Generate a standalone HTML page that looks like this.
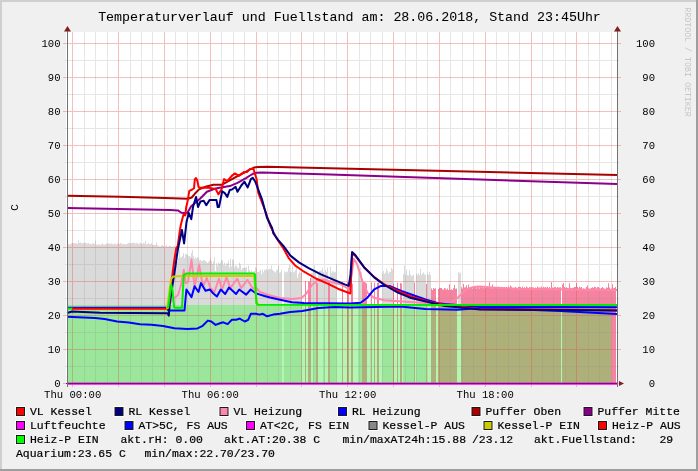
<!DOCTYPE html>
<html><head><meta charset="utf-8"><style>html,body{margin:0;padding:0;width:698px;height:471px;overflow:hidden;background:#f0f0f0}</style></head><body><svg width="698" height="471" viewBox="0 0 698 471" style="display:block;position:absolute;left:0;top:0;will-change:transform"><rect x="0" y="0" width="698" height="471" fill="#9e9e9e"/><rect x="0" y="0" width="696" height="469" fill="#cfcfcf"/><rect x="2" y="2" width="694" height="467" fill="#f0f0f0"/><rect x="66" y="32" width="551" height="351" fill="#ffffff"/><path d="M68,243.9V383H69V243.9ZM69,244.4V383H70V244.4ZM70,244.1V383H71V244.1ZM71,243.2V383H72V243.2ZM72,243.1V383H73V243.1ZM73,243.1V383H74V243.1ZM74,243.6V383H75V243.6ZM75,243.0V383H76V243.0ZM76,243.7V383H77V243.7ZM77,243.6V383H78V243.6ZM78,240.5V383H79V240.5ZM79,242.9V383H80V242.9ZM80,242.6V383H81V242.6ZM81,243.6V383H82V243.6ZM82,243.1V383H83V243.1ZM83,242.9V383H84V242.9ZM84,242.4V383H85V242.4ZM85,242.7V383H86V242.7ZM86,243.2V383H87V243.2ZM87,243.5V383H88V243.5ZM88,243.1V383H89V243.1ZM89,243.8V383H90V243.8ZM90,243.7V383H91V243.7ZM91,244.3V383H92V244.3ZM92,243.4V383H93V243.4ZM93,243.2V383H94V243.2ZM94,244.3V383H95V244.3ZM95,240.8V383H96V240.8ZM96,244.4V383H97V244.4ZM97,244.7V383H98V244.7ZM98,244.5V383H99V244.5ZM99,244.4V383H100V244.4ZM100,244.8V383H101V244.8ZM101,244.2V383H102V244.2ZM102,243.5V383H103V243.5ZM103,244.5V383H104V244.5ZM104,244.7V383H105V244.7ZM105,244.0V383H106V244.0ZM106,243.4V383H107V243.4ZM107,243.6V383H108V243.6ZM108,243.4V383H109V243.4ZM109,243.5V383H110V243.5ZM110,243.9V383H111V243.9ZM111,243.3V383H112V243.3ZM112,244.1V383H113V244.1ZM113,244.5V383H114V244.5ZM114,243.6V383H115V243.6ZM115,243.7V383H116V243.7ZM116,244.6V383H117V244.6ZM117,243.3V383H118V243.3ZM118,243.4V383H119V243.4ZM119,243.9V383H120V243.9ZM120,243.0V383H121V243.0ZM121,243.5V383H122V243.5ZM122,244.4V383H123V244.4ZM123,243.7V383H124V243.7ZM124,243.9V383H125V243.9ZM125,244.3V383H126V244.3ZM126,244.2V383H127V244.2ZM127,243.4V383H128V243.4ZM128,242.9V383H129V242.9ZM129,242.8V383H130V242.8ZM130,243.0V383H131V243.0ZM131,243.2V383H132V243.2ZM132,242.7V383H133V242.7ZM133,242.9V383H134V242.9ZM134,242.7V383H135V242.7ZM135,243.7V383H136V243.7ZM136,243.1V383H137V243.1ZM137,243.3V383H138V243.3ZM138,244.1V383H139V244.1ZM139,243.4V383H140V243.4ZM140,242.8V383H141V242.8ZM141,243.2V383H142V243.2ZM142,244.0V383H143V244.0ZM143,242.7V383H144V242.7ZM144,243.5V383H145V243.5ZM145,240.7V383H146V240.7ZM146,244.3V383H147V244.3ZM147,243.8V383H148V243.8ZM148,243.3V383H149V243.3ZM149,243.9V383H150V243.9ZM150,243.9V383H151V243.9ZM151,243.3V383H152V243.3ZM152,244.8V383H153V244.8ZM153,244.8V383H154V244.8ZM154,245.0V383H155V245.0ZM155,245.0V383H156V245.0ZM156,242.3V383H157V242.3ZM157,245.1V383H158V245.1ZM158,246.3V383H159V246.3ZM159,246.3V383H160V246.3ZM160,246.4V383H161V246.4ZM161,245.3V383H162V245.3ZM162,245.3V383H163V245.3ZM163,246.0V383H164V246.0ZM164,246.4V383H165V246.4ZM165,246.2V383H166V246.2ZM166,245.3V383H167V245.3ZM167,246.7V383H168V246.7ZM168,246.5V383H169V246.5ZM169,245.7V383H170V245.7ZM170,246.0V383H171V246.0ZM171,247.0V383H172V247.0ZM172,246.2V383H173V246.2ZM173,246.7V383H174V246.7ZM174,245.8V383H175V245.8ZM175,247.1V383H176V247.1ZM176,251.8V383H177V251.8ZM177,261.9V383H178V261.9ZM178,258.3V383H179V258.3ZM179,249.5V383H180V249.5ZM180,257.3V383H181V257.3ZM181,257.4V383H182V257.4ZM182,256.0V383H183V256.0ZM183,253.0V383H184V253.0ZM184,258.1V383H185V258.1ZM185,254.0V383H186V254.0ZM186,253.8V383H187V253.8ZM187,255.1V383H188V255.1ZM188,256.4V383H189V256.4ZM189,256.1V383H190V256.1ZM190,256.7V383H191V256.7ZM191,252.9V383H192V252.9ZM192,250.0V383H193V250.0ZM193,256.2V383H194V256.2ZM194,258.7V383H195V258.7ZM195,257.4V383H196V257.4ZM196,258.5V383H197V258.5ZM197,257.0V383H198V257.0ZM198,257.9V383H199V257.9ZM199,260.2V383H200V260.2ZM200,259.7V383H201V259.7ZM201,261.3V383H202V261.3ZM202,260.4V383H203V260.4ZM203,260.3V383H204V260.3ZM204,260.3V383H205V260.3ZM205,260.7V383H206V260.7ZM206,261.9V383H207V261.9ZM207,263.1V383H208V263.1ZM208,261.9V383H209V261.9ZM209,260.7V383H210V260.7ZM210,258.8V383H211V258.8ZM211,260.8V383H212V260.8ZM212,263.9V383H213V263.9ZM213,261.5V383H214V261.5ZM214,257.3V383H215V257.3ZM215,270.9V383H216V270.9ZM216,262.9V383H217V262.9ZM217,265.4V383H218V265.4ZM218,262.3V383H219V262.3ZM219,263.8V383H220V263.8ZM220,262.7V383H221V262.7ZM221,260.2V383H222V260.2ZM222,260.3V383H223V260.3ZM223,264.9V383H224V264.9ZM224,262.8V383H225V262.8ZM225,265.9V383H226V265.9ZM226,263.4V383H227V263.4ZM227,263.4V383H228V263.4ZM228,260.4V383H229V260.4ZM229,267.4V383H230V267.4ZM230,258.4V383H231V258.4ZM231,266.5V383H232V266.5ZM232,259.4V383H233V259.4ZM233,259.7V383H234V259.7ZM234,267.5V383H235V267.5ZM235,265.6V383H236V265.6ZM236,265.7V383H237V265.7ZM237,267.5V383H238V267.5ZM238,268.2V383H239V268.2ZM239,262.6V383H240V262.6ZM240,264.5V383H241V264.5ZM241,270.0V383H242V270.0ZM242,268.0V383H243V268.0ZM243,268.1V383H244V268.1ZM244,267.9V383H245V267.9ZM245,267.4V383H246V267.4ZM246,267.6V383H247V267.6ZM247,273.9V383H248V273.9ZM248,265.6V383H249V265.6ZM249,269.9V383H250V269.9ZM250,271.7V383H251V271.7ZM251,270.4V383H252V270.4ZM252,272.4V383H253V272.4ZM253,271.8V383H254V271.8ZM254,271.0V383H255V271.0ZM255,267.2V383H256V267.2ZM256,268.8V383H257V268.8ZM257,271.9V383H258V271.9ZM258,271.9V383H259V271.9ZM259,271.3V383H260V271.3ZM260,269.6V383H261V269.6ZM261,274.2V383H262V274.2ZM262,269.7V383H263V269.7ZM263,272.6V383H264V272.6ZM264,269.7V383H265V269.7ZM265,269.9V383H266V269.9ZM266,268.7V383H267V268.7ZM267,270.6V383H268V270.6ZM268,269.6V383H269V269.6ZM269,268.8V383H270V268.8ZM270,269.2V383H271V269.2ZM271,265.5V383H272V265.5ZM272,269.8V383H273V269.8ZM273,271.0V383H274V271.0ZM274,271.5V383H275V271.5ZM275,272.4V383H276V272.4ZM276,270.2V383H277V270.2ZM277,269.5V383H278V269.5ZM278,265.4V383H279V265.4ZM279,272.5V383H280V272.5ZM280,271.9V383H281V271.9ZM281,269.6V383H282V269.6ZM284,271.2V383H285V271.2ZM285,272.5V383H286V272.5ZM286,271.6V383H287V271.6ZM287,272.1V383H288V272.1ZM288,267.7V383H289V267.7ZM289,264.7V383H290V264.7ZM290,271.7V383H291V271.7ZM291,272.1V383H292V272.1ZM292,265.6V383H293V265.6ZM293,272.6V383H294V272.6ZM294,271.8V383H295V271.8ZM295,270.0V383H296V270.0ZM296,267.5V383H297V267.5ZM297,277.7V383H298V277.7ZM298,273.8V383H299V273.8ZM299,271.5V383H300V271.5ZM300,272.7V383H301V272.7ZM301,272.5V383H302V272.5ZM311,272.7V383H312V272.7ZM312,272.7V383H313V272.7ZM313,272.1V383H314V272.1ZM314,265.4V383H315V265.4ZM315,270.8V383H316V270.8ZM318,271.8V383H319V271.8ZM319,270.8V383H320V270.8ZM320,270.8V383H321V270.8ZM321,270.6V383H322V270.6ZM322,267.7V383H323V267.7ZM323,272.0V383H324V272.0ZM324,278.4V383H325V278.4ZM325,269.9V383H326V269.9ZM326,272.0V383H327V272.0ZM327,267.5V383H328V267.5ZM330,266.7V383H331V266.7ZM331,272.9V383H332V272.9ZM332,271.2V383H333V271.2ZM333,271.6V383H334V271.6ZM334,272.4V383H335V272.4ZM335,271.7V383H336V271.7ZM336,264.0V383H337V264.0ZM358,272.5V383H359V272.5ZM359,273.8V383H360V273.8ZM360,267.2V383H361V267.2ZM361,271.8V383H362V271.8ZM382,273.6V383H383V273.6ZM383,270.9V383H384V270.9ZM384,274.0V383H385V274.0ZM385,272.9V383H386V272.9ZM386,268.2V383H387V268.2ZM387,271.0V383H388V271.0ZM388,273.5V383H389V273.5ZM389,271.7V383H390V271.7ZM390,272.1V383H391V272.1ZM391,268.0V383H392V268.0ZM392,269.4V383H393V269.4ZM403,274.1V383H404V274.1ZM404,265.5V383H405V265.5ZM405,274.7V383H406V274.7ZM406,269.8V383H407V269.8ZM407,275.3V383H408V275.3ZM408,275.3V383H409V275.3ZM409,270.3V383H410V270.3ZM410,274.4V383H411V274.4ZM411,276.3V383H412V276.3ZM412,275.4V383H413V275.4ZM413,274.8V383H414V274.8ZM416,273.8V383H417V273.8ZM417,275.3V383H418V275.3ZM418,273.2V383H419V273.2ZM419,275.2V383H420V275.2ZM420,268.4V383H421V268.4ZM421,274.9V383H422V274.9ZM422,273.4V383H423V273.4ZM423,272.5V383H424V272.5ZM424,274.2V383H425V274.2ZM425,274.9V383H426V274.9ZM427,273.2V383H428V273.2ZM428,274.9V383H429V274.9ZM429,272.1V383H430V272.1ZM430,274.7V383H431V274.7ZM458,272.0V383H459V272.0ZM459,273.4V383H460V273.4ZM460,272.5V383H461V272.5Z" fill="#dadada"/><path d="M305,281.1V383H306V281.1ZM308,281.5V383H309V281.5ZM309,281.7V383H310V281.7ZM310,277.9V383H311V277.9ZM316,279.5V383H317V279.5ZM317,283.0V383H318V283.0ZM328,282.0V383H329V282.0ZM329,281.3V383H330V281.3ZM342,282.1V383H343V282.1ZM347,282.1V383H348V282.1ZM348,282.8V383H349V282.8ZM351,282.5V383H352V282.5ZM352,283.7V383H353V283.7ZM362,283.3V383H363V283.3ZM363,281.9V383H364V281.9ZM364,282.1V383H365V282.1ZM365,282.6V383H366V282.6ZM366,283.6V383H367V283.6ZM371,282.5V383H372V282.5ZM374,282.7V383H375V282.7ZM377,282.9V383H378V282.9ZM378,282.4V383H379V282.4ZM393,283.7V383H394V283.7ZM397,282.8V383H398V282.8ZM400,282.9V383H401V282.9ZM401,283.4V383H402V283.4ZM414,282.6V383H415V282.6ZM426,283.9V383H427V283.9ZM431,288.4V383H432V288.4ZM432,290.0V383H433V290.0ZM433,287.9V383H434V287.9ZM434,288.8V383H435V288.8ZM435,288.3V383H436V288.3ZM438,289.1V383H439V289.1ZM439,287.8V383H440V287.8ZM440,288.1V383H441V288.1ZM441,287.9V383H442V287.9ZM442,289.2V383H443V289.2ZM443,289.7V383H444V289.7ZM444,287.9V383H445V287.9ZM445,288.5V383H446V288.5ZM446,289.8V383H447V289.8ZM447,288.5V383H448V288.5ZM448,289.9V383H449V289.9ZM449,284.2V383H450V284.2ZM450,289.8V383H451V289.8ZM451,289.4V383H452V289.4ZM452,289.9V383H453V289.9ZM453,288.2V383H454V288.2ZM454,284.9V383H455V284.9ZM455,288.7V383H456V288.7ZM456,288.6V383H457V288.6ZM461,287.3V383H462V287.3ZM462,288.7V383H463V288.7ZM463,283.9V383H464V283.9ZM464,287.6V383H465V287.6ZM465,287.2V383H466V287.2ZM466,285.2V383H467V285.2ZM467,288.6V383H468V288.6ZM468,284.5V383H469V284.5ZM469,288.8V383H470V288.8ZM470,288.4V383H471V288.4ZM471,287.4V383H472V287.4ZM472,288.8V383H473V288.8ZM473,287.1V383H474V287.1ZM474,287.2V383H475V287.2ZM475,286.4V383H476V286.4ZM476,288.6V383H477V288.6ZM477,285.7V383H478V285.7ZM478,287.5V383H479V287.5ZM479,288.6V383H480V288.6ZM480,286.9V383H481V286.9ZM481,287.5V383H482V287.5ZM482,286.7V383H483V286.7ZM483,288.1V383H484V288.1ZM484,288.2V383H485V288.2ZM485,287.1V383H486V287.1ZM486,287.2V383H487V287.2ZM487,286.5V383H488V286.5ZM488,288.1V383H489V288.1ZM489,282.3V383H490V282.3ZM490,287.1V383H491V287.1ZM491,288.5V383H492V288.5ZM492,284.6V383H493V284.6ZM493,287.5V383H494V287.5ZM494,287.4V383H495V287.4ZM495,287.4V383H496V287.4ZM496,288.0V383H497V288.0ZM497,288.4V383H498V288.4ZM498,286.7V383H499V286.7ZM499,287.1V383H500V287.1ZM500,287.3V383H501V287.3ZM501,286.9V383H502V286.9ZM502,287.0V383H503V287.0ZM503,288.5V383H504V288.5ZM504,287.2V383H505V287.2ZM505,288.8V383H506V288.8ZM506,287.0V383H507V287.0ZM507,288.0V383H508V288.0ZM508,286.6V383H509V286.6ZM509,288.4V383H510V288.4ZM510,285.4V383H511V285.4ZM511,286.7V383H512V286.7ZM512,288.8V383H513V288.8ZM513,288.7V383H514V288.7ZM514,288.5V383H515V288.5ZM515,287.1V383H516V287.1ZM516,288.7V383H517V288.7ZM517,287.9V383H518V287.9ZM518,287.0V383H519V287.0ZM519,286.8V383H520V286.8ZM520,287.1V383H521V287.1ZM521,288.0V383H522V288.0ZM522,286.5V383H523V286.5ZM523,288.1V383H524V288.1ZM524,287.2V383H525V287.2ZM525,288.4V383H526V288.4ZM526,286.6V383H527V286.6ZM527,287.4V383H528V287.4ZM528,288.0V383H529V288.0ZM529,286.9V383H530V286.9ZM530,287.5V383H531V287.5ZM531,287.2V383H532V287.2ZM532,287.2V383H533V287.2ZM533,287.4V383H534V287.4ZM534,288.6V383H535V288.6ZM535,287.4V383H536V287.4ZM536,288.3V383H537V288.3ZM537,286.5V383H538V286.5ZM538,287.5V383H539V287.5ZM539,287.5V383H540V287.5ZM540,287.6V383H541V287.6ZM541,286.6V383H542V286.6ZM542,288.1V383H543V288.1ZM543,286.7V383H544V286.7ZM544,287.4V383H545V287.4ZM545,286.9V383H546V286.9ZM546,287.8V383H547V287.8ZM547,286.8V383H548V286.8ZM548,288.5V383H549V288.5ZM549,287.0V383H550V287.0ZM550,288.8V383H551V288.8ZM551,282.0V383H552V282.0ZM552,287.5V383H553V287.5ZM553,288.1V383H554V288.1ZM554,287.0V383H555V287.0ZM555,287.1V383H556V287.1ZM556,288.6V383H557V288.6ZM557,287.0V383H558V287.0ZM558,287.5V383H559V287.5ZM559,287.5V383H560V287.5ZM560,287.2V383H561V287.2ZM562,284.5V383H563V284.5ZM563,283.1V383H564V283.1ZM564,286.9V383H565V286.9ZM565,287.9V383H566V287.9ZM566,287.3V383H567V287.3ZM567,288.0V383H568V288.0ZM568,288.2V383H569V288.2ZM569,283.2V383H570V283.2ZM570,287.8V383H571V287.8ZM571,288.5V383H572V288.5ZM572,287.7V383H573V287.7ZM573,287.8V383H574V287.8ZM574,287.0V383H575V287.0ZM575,286.9V383H576V286.9ZM576,283.3V383H577V283.3ZM577,286.9V383H578V286.9ZM578,288.5V383H579V288.5ZM579,286.8V383H580V286.8ZM580,287.6V383H581V287.6ZM581,287.0V383H582V287.0ZM582,289.1V383H583V289.1ZM583,288.6V383H584V288.6ZM584,289.0V383H585V289.0ZM585,289.0V383H586V289.0ZM586,287.1V383H587V287.1ZM587,285.5V383H588V285.5ZM588,288.5V383H589V288.5ZM589,288.8V383H590V288.8ZM590,288.7V383H591V288.7ZM591,287.9V383H592V287.9ZM592,287.2V383H593V287.2ZM593,287.9V383H594V287.9ZM594,286.8V383H595V286.8ZM595,287.1V383H596V287.1ZM596,288.4V383H597V288.4ZM597,287.1V383H598V287.1ZM598,287.0V383H599V287.0ZM599,288.3V383H600V288.3ZM600,288.8V383H601V288.8ZM601,288.1V383H602V288.1ZM602,287.0V383H603V287.0ZM603,288.3V383H604V288.3ZM604,288.7V383H605V288.7ZM605,289.1V383H606V289.1ZM606,287.6V383H607V287.6ZM607,287.8V383H608V287.8ZM608,283.3V383H609V283.3ZM609,287.4V383H610V287.4ZM610,289.1V383H611V289.1ZM611,288.4V383H612V288.4ZM612,284.2V383H613V284.2ZM613,288.3V383H614V288.3ZM614,288.0V383H615V288.0ZM615,287.1V383H616V287.1Z" fill="#f5829f"/><path d="M68,305H69V383H68ZM69,305H70V383H69ZM70,305H71V383H70ZM71,305H72V383H71ZM72,305H73V383H72ZM73,305H74V383H73ZM74,305H75V383H74ZM75,305H76V383H75ZM76,305H77V383H76ZM77,305H78V383H77ZM78,305H79V383H78ZM79,305H80V383H79ZM80,305H81V383H80ZM81,305H82V383H81ZM82,305H83V383H82ZM83,305H84V383H83ZM84,305H85V383H84ZM85,305H86V383H85ZM86,305H87V383H86ZM87,305H88V383H87ZM88,305H89V383H88ZM89,305H90V383H89ZM90,305H91V383H90ZM91,305H92V383H91ZM92,305H93V383H92ZM93,305H94V383H93ZM94,305H95V383H94ZM95,305H96V383H95ZM96,305H97V383H96ZM97,305H98V383H97ZM98,305H99V383H98ZM99,305H100V383H99ZM100,305H101V383H100ZM101,305H102V383H101ZM102,305H103V383H102ZM103,305H104V383H103ZM104,305H105V383H104ZM105,305H106V383H105ZM106,305H107V383H106ZM107,305H108V383H107ZM108,305H109V383H108ZM109,305H110V383H109ZM110,305H111V383H110ZM111,305H112V383H111ZM112,305H113V383H112ZM113,305H114V383H113ZM114,305H115V383H114ZM115,305H116V383H115ZM116,305H117V383H116ZM117,305H118V383H117ZM118,305H119V383H118ZM119,305H120V383H119ZM120,305H121V383H120ZM121,305H122V383H121ZM122,305H123V383H122ZM123,305H124V383H123ZM124,305H125V383H124ZM125,305H126V383H125ZM126,305H127V383H126ZM127,305H128V383H127ZM128,305H129V383H128ZM129,305H130V383H129ZM130,305H131V383H130ZM131,305H132V383H131ZM132,305H133V383H132ZM133,305H134V383H133ZM134,305H135V383H134ZM135,305H136V383H135ZM136,305H137V383H136ZM137,305H138V383H137ZM138,305H139V383H138ZM139,305H140V383H139ZM140,305H141V383H140ZM141,305H142V383H141ZM142,305H143V383H142ZM143,305H144V383H143ZM144,305H145V383H144ZM145,305H146V383H145ZM146,305H147V383H146ZM147,305H148V383H147ZM148,305H149V383H148ZM149,305H150V383H149ZM150,305H151V383H150ZM151,305H152V383H151ZM152,305H153V383H152ZM153,305H154V383H153ZM154,305H155V383H154ZM155,305H156V383H155ZM156,305H157V383H156ZM157,305H158V383H157ZM158,305H159V383H158ZM159,305H160V383H159ZM160,305H161V383H160ZM161,305H162V383H161ZM162,305H163V383H162ZM163,305H164V383H163ZM164,305H165V383H164ZM165,305H166V383H165ZM166,305H167V383H166ZM167,305H168V383H167ZM168,305H169V383H168ZM169,305H170V383H169ZM170,305H171V383H170ZM171,305H172V383H171ZM172,305H173V383H172ZM173,305H174V383H173ZM174,305H175V383H174ZM175,305H176V383H175ZM176,305H177V383H176ZM177,305H178V383H177ZM178,305H179V383H178ZM179,305H180V383H179ZM180,305H181V383H180ZM181,305H182V383H181ZM182,305H183V383H182ZM183,305H184V383H183ZM184,305H185V383H184ZM185,305H186V383H185ZM186,305H187V383H186ZM187,305H188V383H187ZM188,305H189V383H188ZM189,305H190V383H189ZM190,305H191V383H190ZM191,305H192V383H191ZM192,305H193V383H192ZM193,305H194V383H193ZM194,305H195V383H194ZM195,305H196V383H195ZM196,305H197V383H196ZM197,305H198V383H197ZM198,305H199V383H198ZM199,305H200V383H199ZM200,305H201V383H200ZM201,305H202V383H201ZM202,305H203V383H202ZM203,305H204V383H203ZM204,305H205V383H204ZM205,305H206V383H205ZM206,305H207V383H206ZM207,305H208V383H207ZM208,305H209V383H208ZM209,305H210V383H209ZM210,305H211V383H210ZM211,305H212V383H211ZM212,305H213V383H212ZM213,305H214V383H213ZM214,305H215V383H214ZM215,305H216V383H215ZM216,305H217V383H216ZM217,305H218V383H217ZM218,305H219V383H218ZM219,305H220V383H219ZM220,305H221V383H220ZM221,305H222V383H221ZM222,305H223V383H222ZM223,305H224V383H223ZM224,305H225V383H224ZM225,305H226V383H225ZM226,305H227V383H226ZM227,305H228V383H227ZM228,305H229V383H228ZM229,305H230V383H229ZM230,305H231V383H230ZM231,305H232V383H231ZM232,305H233V383H232ZM233,305H234V383H233ZM234,305H235V383H234ZM235,305H236V383H235ZM236,305H237V383H236ZM237,305H238V383H237ZM238,305H239V383H238ZM239,305H240V383H239ZM240,305H241V383H240ZM241,305H242V383H241ZM242,305H243V383H242ZM243,305H244V383H243ZM244,305H245V383H244ZM245,305H246V383H245ZM246,305H247V383H246ZM247,305H248V383H247ZM248,305H249V383H248ZM249,305H250V383H249ZM250,305H251V383H250ZM251,305H252V383H251ZM252,305H253V383H252ZM253,305H254V383H253ZM254,305H255V383H254ZM255,305H256V383H255ZM256,305H257V383H256ZM257,305H258V383H257ZM258,305H259V383H258ZM259,305H260V383H259ZM260,305H261V383H260ZM261,305H262V383H261ZM262,305H263V383H262ZM263,305H264V383H263ZM264,305H265V383H264ZM265,305H266V383H265ZM266,305H267V383H266ZM267,305H268V383H267ZM268,305H269V383H268ZM269,305H270V383H269ZM270,305H271V383H270ZM271,305H272V383H271ZM272,305H273V383H272ZM273,305H274V383H273ZM274,305H275V383H274ZM275,305H276V383H275ZM276,305H277V383H276ZM277,305H278V383H277ZM278,305H279V383H278ZM279,305H280V383H279ZM280,305H281V383H280ZM281,305H282V383H281ZM284,305H285V383H284ZM285,305H286V383H285ZM286,305H287V383H286ZM287,305H288V383H287ZM288,305H289V383H288ZM289,305H290V383H289ZM290,305H291V383H290ZM291,305H292V383H291ZM292,305H293V383H292ZM293,305H294V383H293ZM294,305H295V383H294ZM295,305H296V383H295ZM296,305H297V383H296ZM297,305H298V383H297ZM298,305H299V383H298ZM299,305H300V383H299ZM300,305H301V383H300ZM301,305H302V383H301ZM313,305H314V383H313ZM314,305H315V383H314ZM315,305H316V383H315ZM323,305H324V383H323ZM324,305H325V383H324ZM330,305H331V383H330ZM331,305H332V383H331ZM332,305H333V383H332ZM333,305H334V383H333ZM334,305H335V383H334ZM335,305H336V383H335ZM336,305H337V383H336ZM358,305H359V383H358ZM359,305H360V383H359ZM360,305H361V383H360ZM361,305H362V383H361ZM382,305H383V383H382ZM383,305H384V383H383ZM384,305H385V383H384ZM385,305H386V383H385ZM386,305H387V383H386ZM387,305H388V383H387ZM388,305H389V383H388ZM389,305H390V383H389ZM390,305H391V383H390ZM391,305H392V383H391ZM392,305H393V383H392ZM403,305H404V383H403ZM404,305H405V383H404ZM405,305H406V383H405ZM406,305H407V383H406ZM407,305H408V383H407ZM408,305H409V383H408ZM409,305H410V383H409ZM410,305H411V383H410ZM411,305H412V383H411ZM412,305H413V383H412ZM413,305H414V383H413ZM416,305H417V383H416ZM417,305H418V383H417ZM418,305H419V383H418ZM419,305H420V383H419ZM420,305H421V383H420ZM421,305H422V383H421ZM422,305H423V383H422ZM423,305H424V383H423ZM424,305H425V383H424ZM425,305H426V383H425Z" fill="#9be69b"/><path d="M282,305H283V383H282ZM283,305H284V383H283ZM302,305H303V383H302ZM303,305H304V383H303ZM304,305H305V383H304ZM306,305H307V383H306ZM307,305H308V383H307ZM337,305H338V383H337ZM338,305H339V383H338ZM339,305H340V383H339ZM340,305H341V383H340ZM341,305H342V383H341ZM343,305H344V383H343ZM344,305H345V383H344ZM345,305H346V383H345ZM346,305H347V383H346ZM349,305H350V383H349ZM350,305H351V383H350ZM353,305H354V383H353ZM354,305H355V383H354ZM355,305H356V383H355ZM356,305H357V383H356ZM357,305H358V383H357ZM367,305H368V383H367ZM368,305H369V383H368ZM369,305H370V383H369ZM370,305H371V383H370ZM372,305H373V383H372ZM373,305H374V383H373ZM375,305H376V383H375ZM376,305H377V383H376ZM379,305H380V383H379ZM380,305H381V383H380ZM381,305H382V383H381ZM394,305H395V383H394ZM395,305H396V383H395ZM396,305H397V383H396ZM398,305H399V383H398ZM399,305H400V383H399ZM402,305H403V383H402ZM415,305H416V383H415ZM436,305H437V383H436ZM437,305H438V383H437ZM457,305H458V383H457ZM561,305H562V383H561Z" fill="#b3f5b3"/><path d="M311,305H312V383H311ZM312,305H313V383H312ZM318,305H319V383H318ZM319,305H320V383H319ZM320,305H321V383H320ZM321,305H322V383H321ZM322,305H323V383H322ZM325,305H326V383H325ZM326,305H327V383H326ZM327,305H328V383H327ZM427,305H428V383H427ZM428,305H429V383H428ZM429,305H430V383H429ZM430,305H431V383H430ZM458,305H459V383H458ZM459,305H460V383H459ZM460,305H461V383H460Z" fill="#b3f5b3"/><path d="M305,305H306V383H305ZM308,305H309V383H308ZM309,305H310V383H309ZM310,305H311V383H310ZM316,305H317V383H316ZM317,305H318V383H317ZM328,305H329V383H328ZM329,305H330V383H329ZM342,305H343V383H342ZM347,305H348V383H347ZM348,305H349V383H348ZM351,305H352V383H351ZM352,305H353V383H352ZM362,305H363V383H362ZM363,305H364V383H363ZM364,305H365V383H364ZM365,305H366V383H365ZM366,305H367V383H366ZM371,305H372V383H371ZM374,305H375V383H374ZM377,305H378V383H377ZM378,305H379V383H378ZM393,305H394V383H393ZM397,305H398V383H397ZM400,305H401V383H400ZM401,305H402V383H401ZM414,305H415V383H414ZM426,305H427V383H426ZM431,305H432V383H431ZM432,305H433V383H432ZM433,305H434V383H433ZM434,305H435V383H434ZM435,305H436V383H435ZM438,305H439V383H438ZM439,305H440V383H439ZM440,305H441V383H440ZM441,305H442V383H441ZM442,305H443V383H442ZM443,305H444V383H443ZM444,305H445V383H444ZM445,305H446V383H445ZM446,305H447V383H446ZM447,305H448V383H447ZM448,305H449V383H448ZM449,305H450V383H449ZM450,305H451V383H450ZM451,305H452V383H451ZM452,305H453V383H452ZM453,305H454V383H453ZM454,305H455V383H454ZM455,305H456V383H455ZM456,305H457V383H456ZM461,305H462V383H461ZM462,305H463V383H462ZM463,305H464V383H463ZM464,305H465V383H464ZM465,305H466V383H465ZM466,305H467V383H466ZM467,305H468V383H467ZM468,305H469V383H468ZM469,305H470V383H469ZM470,305H471V383H470ZM471,305H472V383H471ZM472,305H473V383H472ZM473,305H474V383H473ZM474,305H475V383H474ZM475,305H476V383H475ZM476,305H477V383H476ZM477,305H478V383H477ZM478,305H479V383H478ZM479,305H480V383H479ZM480,305H481V383H480ZM481,305H482V383H481ZM482,305H483V383H482ZM483,305H484V383H483ZM484,305H485V383H484ZM485,305H486V383H485ZM486,305H487V383H486ZM487,305H488V383H487ZM488,305H489V383H488ZM489,305H490V383H489ZM490,305H491V383H490ZM491,305H492V383H491ZM492,305H493V383H492ZM493,305H494V383H493ZM494,305H495V383H494ZM495,305H496V383H495ZM496,305H497V383H496ZM497,305H498V383H497ZM498,305H499V383H498ZM499,305H500V383H499ZM500,305H501V383H500ZM501,305H502V383H501ZM502,305H503V383H502ZM503,305H504V383H503ZM504,305H505V383H504ZM505,305H506V383H505ZM506,305H507V383H506ZM507,305H508V383H507ZM508,305H509V383H508ZM509,305H510V383H509ZM510,305H511V383H510ZM511,305H512V383H511ZM512,305H513V383H512ZM513,305H514V383H513ZM514,305H515V383H514ZM515,305H516V383H515ZM516,305H517V383H516ZM517,305H518V383H517ZM518,305H519V383H518ZM519,305H520V383H519ZM520,305H521V383H520ZM521,305H522V383H521ZM522,305H523V383H522ZM523,305H524V383H523ZM524,305H525V383H524ZM525,305H526V383H525ZM526,305H527V383H526ZM527,305H528V383H527ZM528,305H529V383H528ZM529,305H530V383H529ZM530,305H531V383H530ZM531,305H532V383H531ZM532,305H533V383H532ZM533,305H534V383H533ZM534,305H535V383H534ZM535,305H536V383H535ZM536,305H537V383H536ZM537,305H538V383H537ZM538,305H539V383H538ZM539,305H540V383H539ZM540,305H541V383H540ZM541,305H542V383H541ZM542,305H543V383H542ZM543,305H544V383H543ZM544,305H545V383H544ZM545,305H546V383H545ZM546,305H547V383H546ZM547,305H548V383H547ZM548,305H549V383H548ZM549,305H550V383H549ZM550,305H551V383H550ZM551,305H552V383H551ZM552,305H553V383H552ZM553,305H554V383H553ZM554,305H555V383H554ZM555,305H556V383H555ZM556,305H557V383H556ZM557,305H558V383H557ZM558,305H559V383H558ZM559,305H560V383H559ZM560,305H561V383H560ZM562,305H563V383H562ZM563,305H564V383H563ZM564,305H565V383H564ZM565,305H566V383H565ZM566,305H567V383H566ZM567,305H568V383H567ZM568,305H569V383H568ZM569,305H570V383H569ZM570,305H571V383H570ZM571,305H572V383H571ZM572,305H573V383H572ZM573,305H574V383H573ZM574,305H575V383H574ZM575,305H576V383H575ZM576,305H577V383H576ZM577,305H578V383H577ZM578,305H579V383H578ZM579,305H580V383H579ZM580,305H581V383H580ZM581,305H582V383H581ZM582,305H583V383H582ZM583,305H584V383H583ZM584,305H585V383H584ZM585,305H586V383H585ZM586,305H587V383H586ZM587,305H588V383H587ZM588,305H589V383H588ZM589,305H590V383H589ZM590,305H591V383H590ZM591,305H592V383H591ZM592,305H593V383H592ZM593,305H594V383H593ZM594,305H595V383H594ZM595,305H596V383H595ZM596,305H597V383H596ZM597,305H598V383H597ZM598,305H599V383H598ZM599,305H600V383H599ZM600,305H601V383H600ZM601,305H602V383H601ZM602,305H603V383H602ZM603,305H604V383H603ZM604,305H605V383H604ZM605,305H606V383H605ZM606,305H607V383H606ZM607,305H608V383H607ZM608,305H609V383H608ZM609,305H610V383H609ZM610,305H611V383H610Z" fill="#aeb07a"/><path d="M65 366.5H619M65 332.5H619M65 298.5H619M65 264.5H619M65 230.5H619M65 196.5H619M65 162.5H619M65 128.5H619M65 94.5H619M65 60.5H619M84.5 32V385M95.5 32V385M107.5 32V385M130.5 32V385M141.5 32V385M152.5 32V385M175.5 32V385M187.5 32V385M198.5 32V385M221.5 32V385M233.5 32V385M244.5 32V385M267.5 32V385M278.5 32V385M290.5 32V385M313.5 32V385M324.5 32V385M336.5 32V385M359.5 32V385M370.5 32V385M382.5 32V385M405.5 32V385M416.5 32V385M427.5 32V385M450.5 32V385M462.5 32V385M473.5 32V385M496.5 32V385M508.5 32V385M519.5 32V385M542.5 32V385M553.5 32V385M565.5 32V385M588.5 32V385M599.5 32V385M611.5 32V385" stroke="rgba(143,143,143,0.22)" stroke-width="1" fill="none" shape-rendering="crispEdges"/><path d="M63 383.5H621M63 349.5H621M63 315.5H621M63 281.5H621M63 247.5H621M63 213.5H621M63 179.5H621M63 145.5H621M63 111.5H621M63 77.5H621M63 43.5H621M72.5 32V387M118.5 32V387M164.5 32V387M210.5 32V387M256.5 32V387M301.5 32V387M347.5 32V387M393.5 32V387M439.5 32V387M485.5 32V387M531.5 32V387M576.5 32V387" stroke="rgba(222,79,79,0.36)" stroke-width="1" fill="none" shape-rendering="crispEdges"/><path d="M67.0,308.5 167.0,308.5 172.0,300.0 178.0,295.0 181.0,285.0 183.8,269.7 185.7,283.1 188.0,282.0 191.5,259.6 194.6,286.9 199.1,264.6 202.9,286.9 206.8,278.0 210.6,288.2 214.4,292.0 218.9,278.7 222.0,289.5 226.5,277.4 230.3,288.2 237.3,278.7 241.1,288.2 247.5,279.9 252.6,288.2 256.4,288.2 260.0,292.0 270.0,295.5 280.2,298.0 292.1,298.9 301.4,298.0 306.0,294.0 312.0,285.0 318.0,280.5 324.0,279.5 330.0,281.5 341.3,284.6 349.5,289.3 353.8,258.7 357.0,264.0 362.3,280.8 367.4,292.7 374.2,297.7 384.4,300.3 410.0,302.0 440.0,304.0 450.0,303.0 457.3,298.2 466.2,289.3 473.9,287.0 480.0,286.6 491.6,287.5 520.0,289.0 617.0,290.0" stroke="#ff88aa" stroke-width="2" fill="none" stroke-linejoin="round"/><path d="M67.0,316.7 95.0,318.0 104.6,319.0 117.2,321.4 128.7,322.5 140.1,324.2 151.6,324.8 163.0,326.0 174.5,328.2 187.2,328.9 197.5,328.4 202.7,325.8 207.8,320.6 211.3,321.5 215.6,324.9 219.9,323.2 223.3,322.3 227.6,324.1 231.9,319.8 236.2,319.8 239.6,318.6 244.8,321.5 248.2,319.8 250.8,313.8 256.0,313.8 259.4,314.6 262.8,313.8 267.1,316.3 273.1,314.6 280.0,313.8 290.2,312.1 302.3,311.1 318.4,308.1 334.5,307.1 350.0,307.5 400.0,306.5 425.5,309.0 457.3,309.7 480.0,308.0 560.0,311.0 617.0,314.0" stroke="#0000ff" stroke-width="2" fill="none" stroke-linejoin="round"/><path d="M67.0,307.8 167.6,307.8 168.2,310.5 184.5,310.5 186.4,289.5 188.9,293.3 191.5,297.1 194.6,286.3 198.5,292.0 201.0,283.1 205.5,290.8 209.9,289.5 213.1,293.3 216.9,296.5 220.8,289.5 225.2,294.0 229.0,287.6 236.1,294.0 239.2,289.5 246.2,294.6 250.7,289.5 255.8,293.3 260.0,294.6 264.5,296.0 270.0,297.5 280.0,299.7 292.1,302.3 304.0,303.1 350.0,303.5 360.6,302.8 367.4,297.7 374.2,289.3 381.0,285.9 389.4,285.9 401.3,291.0 412.7,295.0 425.5,299.5 438.2,303.3 444.6,304.0 480.0,307.0 560.0,307.0 617.0,307.2" stroke="#0000ff" stroke-width="2" fill="none" stroke-linejoin="round"/><path d="M67.0,308.6 73.0,308.6" stroke="#00ee00" stroke-width="2" fill="none" stroke-linejoin="round"/><path d="M67.0,208.1 170.0,210.0 178.3,210.6 181.5,212.8 187.2,213.2 191.0,206.5 195.5,202.6 200.0,198.8 206.9,191.8 214.6,188.7 220.9,187.4 229.8,186.1 237.5,182.9 246.4,177.8 250.0,175.5 253.0,173.8 256.5,172.8 262.0,172.4 330.0,174.5 617.0,184.0" stroke="#8a008a" stroke-width="2" fill="none" stroke-linejoin="round"/><path d="M67.0,195.7 120.0,196.8 165.0,198.1 187.8,198.8 191.7,197.5 194.8,193.8 199.0,189.4 205.6,186.8 213.3,184.8 221.6,184.8 229.8,180.4 238.8,175.3 245.0,172.3 250.0,169.3 254.0,167.6 258.0,166.9 267.0,166.7 330.0,168.3 617.0,175.0" stroke="#aa0000" stroke-width="2" fill="none" stroke-linejoin="round"/><path d="M72.0,308.7 167.8,308.8 168.6,306.0 169.2,297.0 170.6,289.0 172.5,274.0 174.2,261.0 176.2,248.3 177.7,246.1 179.6,232.3 180.8,225.0 183.4,214.7 185.3,215.4 186.2,207.1 187.2,203.3 189.3,190.8 192.3,189.5 194.0,188.3 194.8,179.3 196.1,178.1 197.4,181.0 198.6,187.0 200.0,187.8 205.6,187.4 210.7,188.0 215.8,189.3 218.4,194.4 221.6,189.3 224.1,179.1 227.3,181.0 231.8,175.9 234.9,173.4 238.8,175.9 243.9,172.1 247.0,172.0 250.2,168.9 253.5,169.0 256.6,179.1 258.3,193.0 265.3,211.0 270.4,226.2 276.8,238.6 283.6,248.8 288.7,258.1 295.5,265.8 304.0,271.7 315.9,278.5 327.7,283.6 337.9,288.7 350.4,293.5 352.1,253.6 355.5,256.0 364.0,267.2 374.2,277.0 384.4,284.5 397.9,291.0 400.0,291.8 410.0,296.0 412.7,297.0 428.0,301.4 445.0,305.0 480.0,309.0 560.0,309.5 617.0,310.6" stroke="#ff0000" stroke-width="2" fill="none" stroke-linejoin="round"/><path d="M67.0,313.0 72.0,311.5 100.0,312.8 167.6,313.3 168.8,315.6 169.7,304.0 172.6,284.7 174.9,269.9 177.7,250.3 181.9,230.0 184.1,243.4 186.5,222.0 188.8,213.0 191.3,219.2 193.0,207.0 196.1,196.9 198.0,207.0 200.5,201.4 203.7,200.8 206.3,205.2 209.5,200.1 216.5,200.1 217.7,207.1 219.0,207.0 222.2,191.2 224.8,193.1 227.3,196.9 229.8,189.9 232.0,189.5 235.6,186.8 237.5,191.8 241.3,185.5 244.5,181.7 247.7,187.4 250.9,179.1 252.8,177.8 255.3,181.7 259.3,192.3 261.9,199.1 267.0,217.7 272.1,228.0 273.4,233.5 278.5,240.3 283.6,246.2 290.4,255.6 298.9,262.4 309.1,268.3 321.0,274.3 332.8,279.4 344.7,284.4 348.7,285.9 350.4,275.7 352.1,251.9 355.5,255.3 364.0,267.2 374.2,277.4 384.4,285.0 397.9,292.7 410.0,297.7 428.0,302.0 445.0,306.0 480.0,309.5 560.0,310.0 617.0,310.6" stroke="#000080" stroke-width="2" fill="none" stroke-linejoin="round"/><path d="M167.0,309.0 168.9,295.1 171.1,278.8 173.4,276.5 182.3,276.0 254.0,276.0 256.4,300.0 258.0,305.0 260.0,305.5" stroke="#cccc00" stroke-width="2" fill="none" stroke-linejoin="round"/><path d="M168.0,308.6 169.3,300.0 170.7,287.0 171.3,285.0 172.5,290.0 174.1,307.0 175.0,307.7 182.0,307.7 183.8,275.0 186.4,273.6 253.9,273.6 255.0,274.5 256.4,303.5 258.0,304.7 617.0,305.0" stroke="#00ee00" stroke-width="2" fill="none" stroke-linejoin="round"/><path d="M67,383.6H617" stroke="#ff00ff" stroke-width="2.3" fill="none"/><path d="M66,383.5H618" stroke="#6a1a6a" stroke-width="1" fill="none"/><path d="M619,381L624,383.5L619,386Z" fill="#801f1f"/><path d="M67.5 387V30M617.5 387V30" stroke="#727272" stroke-width="1" fill="none" shape-rendering="crispEdges"/><path d="M64 31.5L67.5 26L71 31.5ZM614 31.5L617.5 26L621 31.5Z" fill="#801f1f"/><text x="349.5" y="21" font-family='"Liberation Mono", monospace' font-size="13.3" text-anchor="middle" fill="#000" stroke="#000" stroke-width="0.05">Temperaturverlauf und Fuellstand am: 28.06.2018, Stand 23:45Uhr</text><g font-family='"Liberation Mono", monospace' font-size="10.6" fill="#000"><text x="60.5" y="387.0" text-anchor="end">0</text><text x="655" y="387.0" text-anchor="end">0</text><text x="60.5" y="353.0" text-anchor="end">10</text><text x="655" y="353.0" text-anchor="end">10</text><text x="60.5" y="319.0" text-anchor="end">20</text><text x="655" y="319.0" text-anchor="end">20</text><text x="60.5" y="285.0" text-anchor="end">30</text><text x="655" y="285.0" text-anchor="end">30</text><text x="60.5" y="251.0" text-anchor="end">40</text><text x="655" y="251.0" text-anchor="end">40</text><text x="60.5" y="217.0" text-anchor="end">50</text><text x="655" y="217.0" text-anchor="end">50</text><text x="60.5" y="183.0" text-anchor="end">60</text><text x="655" y="183.0" text-anchor="end">60</text><text x="60.5" y="149.0" text-anchor="end">70</text><text x="655" y="149.0" text-anchor="end">70</text><text x="60.5" y="115.0" text-anchor="end">80</text><text x="655" y="115.0" text-anchor="end">80</text><text x="60.5" y="81.0" text-anchor="end">90</text><text x="655" y="81.0" text-anchor="end">90</text><text x="60.5" y="47.0" text-anchor="end">100</text><text x="655" y="47.0" text-anchor="end">100</text><text x="72.7" y="398" text-anchor="middle">Thu 00:00</text><text x="210.2" y="398" text-anchor="middle">Thu 06:00</text><text x="347.7" y="398" text-anchor="middle">Thu 12:00</text><text x="485.2" y="398" text-anchor="middle">Thu 18:00</text></g><text transform="translate(18,207.5) rotate(-90)" font-family='"Liberation Mono", monospace' font-size="11.5" text-anchor="middle" fill="#000">C</text><text transform="translate(685,62) rotate(90)" font-family='"Liberation Mono", monospace' font-size="8.3" text-anchor="middle" fill="#c8c8c8">RRDTOOL / TOBI OETIKER</text><g font-family='"Liberation Mono", monospace' font-size="11.45" fill="#000"><rect x="15" y="406" width="11" height="11" fill="#fff"/><rect x="16.5" y="407.5" width="8" height="8" fill="#ff0000" stroke="#1a1a1a" stroke-width="1"/><text x="30" y="415" stroke="#000" stroke-width="0.2">VL Kessel</text><rect x="113.5" y="406" width="11" height="11" fill="#fff"/><rect x="115.0" y="407.5" width="8" height="8" fill="#000080" stroke="#1a1a1a" stroke-width="1"/><text x="128.5" y="415" stroke="#000" stroke-width="0.2">RL Kessel</text><rect x="218.5" y="406" width="11" height="11" fill="#fff"/><rect x="220.0" y="407.5" width="8" height="8" fill="#ff88aa" stroke="#1a1a1a" stroke-width="1"/><text x="233.5" y="415" stroke="#000" stroke-width="0.2">VL Heizung</text><rect x="337" y="406" width="11" height="11" fill="#fff"/><rect x="338.5" y="407.5" width="8" height="8" fill="#0000ff" stroke="#1a1a1a" stroke-width="1"/><text x="352" y="415" stroke="#000" stroke-width="0.2">RL Heizung</text><rect x="470.5" y="406" width="11" height="11" fill="#fff"/><rect x="472.0" y="407.5" width="8" height="8" fill="#aa0000" stroke="#1a1a1a" stroke-width="1"/><text x="485.5" y="415" stroke="#000" stroke-width="0.2">Puffer Oben</text><rect x="582.5" y="406" width="11" height="11" fill="#fff"/><rect x="584.0" y="407.5" width="8" height="8" fill="#880088" stroke="#1a1a1a" stroke-width="1"/><text x="597.5" y="415" stroke="#000" stroke-width="0.2">Puffer Mitte</text><rect x="15" y="420" width="11" height="11" fill="#fff"/><rect x="16.5" y="421.5" width="8" height="8" fill="#ff00ff" stroke="#1a1a1a" stroke-width="1"/><text x="30" y="429" stroke="#000" stroke-width="0.2">Luftfeuchte</text><rect x="123.5" y="420" width="11" height="11" fill="#fff"/><rect x="125.0" y="421.5" width="8" height="8" fill="#0000ff" stroke="#1a1a1a" stroke-width="1"/><text x="138.5" y="429" stroke="#000" stroke-width="0.2">AT&gt;5C, FS AUS</text><rect x="245" y="420" width="11" height="11" fill="#fff"/><rect x="246.5" y="421.5" width="8" height="8" fill="#ff00ff" stroke="#1a1a1a" stroke-width="1"/><text x="260" y="429" stroke="#000" stroke-width="0.2">AT&lt;2C, FS EIN</text><rect x="367.5" y="420" width="11" height="11" fill="#fff"/><rect x="369.0" y="421.5" width="8" height="8" fill="#888888" stroke="#1a1a1a" stroke-width="1"/><text x="382.5" y="429" stroke="#000" stroke-width="0.2">Kessel-P AUS</text><rect x="482.5" y="420" width="11" height="11" fill="#fff"/><rect x="484.0" y="421.5" width="8" height="8" fill="#cccc00" stroke="#1a1a1a" stroke-width="1"/><text x="497.5" y="429" stroke="#000" stroke-width="0.2">Kessel-P EIN</text><rect x="597" y="420" width="11" height="11" fill="#fff"/><rect x="598.5" y="421.5" width="8" height="8" fill="#ff0000" stroke="#1a1a1a" stroke-width="1"/><text x="612" y="429" stroke="#000" stroke-width="0.2">Heiz-P AUS</text><rect x="15" y="434" width="11" height="11" fill="#fff"/><rect x="16.5" y="435.5" width="8" height="8" fill="#00ff00" stroke="#1a1a1a" stroke-width="1"/><text x="30" y="443" stroke="#000" stroke-width="0.2">Heiz-P EIN</text><text x="120.5" y="443" stroke="#000" stroke-width="0.2">akt.rH: 0.00</text><text x="224" y="443" stroke="#000" stroke-width="0.2">akt.AT:20.38 C</text><text x="342.5" y="443" stroke="#000" stroke-width="0.2">min/maxAT24h:15.88</text><text x="472" y="443" stroke="#000" stroke-width="0.2">/23.12</text><text x="534" y="443" stroke="#000" stroke-width="0.2">akt.Fuellstand:</text><text x="659.5" y="443" stroke="#000" stroke-width="0.2">29</text><text x="16" y="457" stroke="#000" stroke-width="0.2">Aquarium:23.65 C</text><text x="144.5" y="457" stroke="#000" stroke-width="0.2">min/max:22.70/23.70</text></g></svg></body></html>
